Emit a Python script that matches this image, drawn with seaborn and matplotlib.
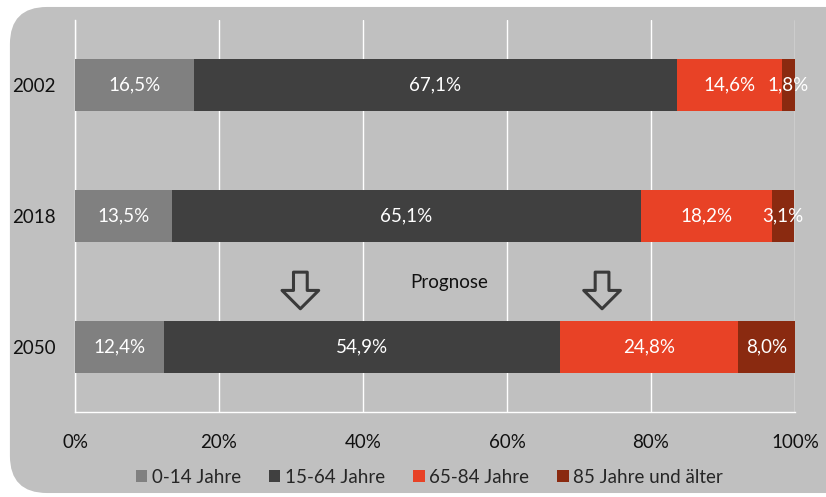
import matplotlib
matplotlib.use("Agg")
import matplotlib.pyplot as plt
from matplotlib.patches import FancyBboxPatch, Patch
import pandas as pd
import seaborn as sns

years = ["2002", "2018", "2050"]
groups = ["0-14 Jahre", "15-64 Jahre", "65-84 Jahre", "85 Jahre und älter"]
age_0_14 = [16.5, 13.5, 12.4]
age_15_64 = [67.1, 65.1, 54.9]
age_65_84 = [14.6, 18.2, 24.8]
age_85 = [1.8, 3.1, 8.0]
colors = ["#808080", "#404040", "#e84226", "#8a2a10"]
bg = "#c0c0c0"

sns.set_theme(style="white")
plt.rcParams["font.family"] = ["Lato", "DejaVu Sans"]

series = [age_0_14, age_15_64, age_65_84, age_85]
df = pd.DataFrame({"Jahr": years})
cum = [0.0] * len(years)
for name, vals in zip(groups, series):
    cum = [c + v for c, v in zip(cum, vals)]
    df[name] = cum

fig = plt.figure(figsize=(8.26, 4.97), dpi=100, facecolor="white")
fig.patches.append(FancyBboxPatch((0.012, 0.008), 1.2, 0.978, boxstyle="round,pad=0,rounding_size=0.045",
                                  transform=fig.transFigure, facecolor=bg, edgecolor="none", zorder=-10,
                                  mutation_aspect=826 / 497))
ax = fig.add_axes([0.0908, 0.171, 0.8717, 0.789])
ax.set_facecolor(bg)

# stacked bars: draw cumulative totals from largest to smallest
for name, col in reversed(list(zip(groups, colors))):
    sns.barplot(data=df, x=name, y="Jahr", order=years, color=col, orient="h",
                width=0.4, saturation=1, linewidth=0, ax=ax, zorder=3)

fs = 13.5
for i in range(len(years)):
    left = 0.0
    for vals in series:
        v = vals[i]
        ax.text(left + v / 2, i, f"{v:.1f}%".replace(".", ","), ha="center", va="center",
                color="white", fontsize=fs, zorder=5)
        left += v

ax.set_xlim(0, 100)
ax.set_ylim(2.5, -0.5)
ax.set_xticks(range(0, 101, 20))
ax.set_xticklabels([f"{t}%" for t in range(0, 101, 20)], fontsize=fs, color="#111111")
ax.set_xlabel("")
ax.set_ylabel("")
ax.tick_params(axis="x", length=0, pad=16)
ax.tick_params(axis="y", which="major", length=0, pad=14, labelsize=fs, labelcolor="#111111")
ax.set_yticks([-0.5, 0.5, 1.5, 2.5], minor=True)
ax.tick_params(axis="y", which="minor", length=7, color="white", width=1)
ax.grid(axis="x", color="white", lw=1, zorder=0)
ax.set_axisbelow(True)
for s in ["top", "right"]:
    ax.spines[s].set_visible(False)
for s in ["left", "bottom"]:
    ax.spines[s].set_color("white")
    ax.spines[s].set_linewidth(1)

arrow = dict(arrowstyle="simple,head_length=0.6,head_width=1.2,tail_width=0.45",
             fc="none", ec="#3a3a3a", lw=2.2, mutation_scale=22, shrinkA=0, shrinkB=0)
for xa in [31.3, 73.2]:
    ax.annotate("", xy=(xa, 1.71), xytext=(xa, 1.43), arrowprops=arrow, zorder=4)
ax.text(52, 1.51, "Prognose", ha="center", va="center", fontsize=fs, color="#111111")

handles = [Patch(facecolor=c, edgecolor="none", label=g) for g, c in zip(groups, colors)]
fig.legend(handles=handles, loc="center", bbox_to_anchor=(0.52, 0.04), ncol=4, frameon=False,
           fontsize=fs, handlelength=0.6, handleheight=0.6, handletextpad=0.25, columnspacing=1.5)

fig.savefig("out.png", dpi=100, facecolor="white")
